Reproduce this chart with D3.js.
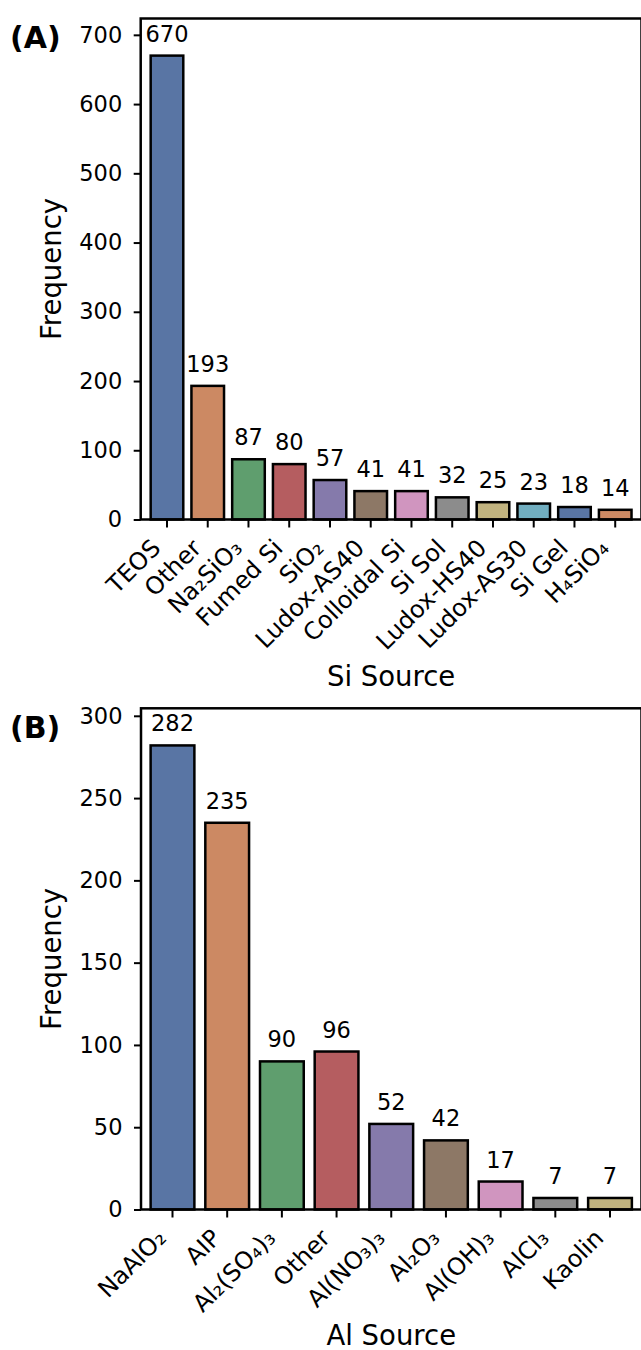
<!DOCTYPE html>
<html>
<head>
<meta charset="utf-8">
<script src="https://cdn.jsdelivr.net/npm/d3@7"></script>
<style>
  body { margin: 0; background: #fff; }
  svg { display: block; font-family: "DejaVu Sans", sans-serif; }
</style>
</head>
<body>
<svg id="chart" width="641" height="1350"></svg>
<script>
// Si sources (panel A)
const siSources = ["TEOS", "Other", "Na₂SiO₃", "Fumed Si", "SiO₂", "Ludox-AS40",
  "Colloidal Si", "Si Sol", "Ludox-HS40", "Ludox-AS30", "Si Gel", "H₄SiO₄"];
const siCounts = [670, 193, 87, 80, 57, 41, 41, 32, 25, 23, 18, 14];
const siTicks = [0, 100, 200, 300, 400, 500, 600, 700];

// Al sources (panel B)
const alSources = ["NaAlO₂", "AIP", "Al₂(SO₄)₃", "Other", "Al(NO₃)₃", "Al₂O₃",
  "Al(OH)₃", "AlCl₃", "Kaolin"];
const alCounts = [282, 235, 90, 96, 52, 42, 17, 7, 7];
const alTicks = [0, 50, 100, 150, 200, 250, 300];

// seaborn "deep" at 0.75 saturation
const palette = ["#5975a4", "#cc8963", "#5f9e6e", "#b55d60", "#857aab",
  "#8d7866", "#d095bf", "#8c8c8c", "#c1b37f", "#71aec0"];

const tickFont = 22.5;
const xTickFont = 24;
const titleFont = 27.5;

const svg = d3.select("#chart");

function drawPanel(opts) {
  const { names, counts, ticks, left, right, top, bottom, outer, tag, xTitle, titleY } = opts;
  const data = names.map((n, i) => ({ name: n, value: counts[i] }));

  const x = d3.scaleBand()
    .domain(names)
    .range([left, right])
    .paddingInner(0.2)
    .paddingOuter(outer);

  const y = d3.scaleLinear()
    .domain([0, d3.max(counts) * 1.08])
    .range([bottom, top]);

  const g = svg.append("g");

  // bars
  g.append("g")
    .selectAll("rect")
    .data(data)
    .join("rect")
    .attr("x", d => x(d.name))
    .attr("y", d => y(d.value))
    .attr("width", x.bandwidth())
    .attr("height", d => y(0) - y(d.value))
    .attr("fill", (d, i) => palette[i % palette.length])
    .attr("stroke", "#000")
    .attr("stroke-width", 2.5);

  // value labels
  g.append("g")
    .selectAll("text")
    .data(data)
    .join("text")
    .attr("x", d => x(d.name) + x.bandwidth() / 2)
    .attr("y", d => y(d.value) - 14)
    .attr("text-anchor", "middle")
    .attr("font-size", tickFont)
    .text(d => d.value);

  // y axis
  const yAxis = g.append("g")
    .attr("transform", `translate(${left},0)`)
    .call(d3.axisLeft(y).tickValues(ticks).tickSize(7).tickPadding(11.5));
  yAxis.select(".domain").remove();
  yAxis.selectAll("line").attr("stroke-width", 2);
  yAxis.selectAll("text").attr("font-size", tickFont).attr("fill", "#000")
    .attr("font-family", "DejaVu Sans");

  // x axis
  const xAxis = g.append("g")
    .attr("transform", `translate(0,${bottom})`)
    .call(d3.axisBottom(x).tickSize(8).tickSizeOuter(0));
  xAxis.select(".domain").remove();
  xAxis.selectAll("line").attr("stroke-width", 2);
  xAxis.selectAll("text")
    .attr("font-size", xTickFont)
    .attr("font-family", "DejaVu Sans")
    .attr("fill", "#000")
    .attr("text-anchor", "end")
    .attr("dy", null)
    .attr("y", null)
    .attr("transform", "translate(-5,30) rotate(-45)");

  // frame
  g.append("rect")
    .attr("x", left)
    .attr("y", top)
    .attr("width", right - left)
    .attr("height", bottom - top)
    .attr("fill", "none")
    .attr("stroke", "#000")
    .attr("stroke-width", 2.5);

  // axis titles
  g.append("text")
    .attr("x", (left + right) / 2)
    .attr("y", titleY)
    .attr("text-anchor", "middle")
    .attr("font-size", titleFont)
    .text(xTitle);

  g.append("text")
    .attr("transform", `translate(60.5,${(top + bottom) / 2}) rotate(-90)`)
    .attr("text-anchor", "middle")
    .attr("font-size", titleFont)
    .text("Frequency");

  // panel tag
  g.append("text")
    .attr("x", 10)
    .attr("y", top + 29.5)
    .attr("font-size", 30)
    .attr("font-weight", "bold")
    .text(tag);
}

drawPanel({
  names: siSources, counts: siCounts, ticks: siTicks,
  left: 140.7, right: 641.5, top: 18.5, bottom: 519.5, outer: 0.245,
  tag: "(A)", xTitle: "Si Source", titleY: 685.5
});

drawPanel({
  names: alSources, counts: alCounts, ticks: alTicks,
  left: 141, right: 641.5, top: 708.3, bottom: 1209.5, outer: 0.176,
  tag: "(B)", xTitle: "Al Source", titleY: 1345
});
</script>
</body>
</html>
